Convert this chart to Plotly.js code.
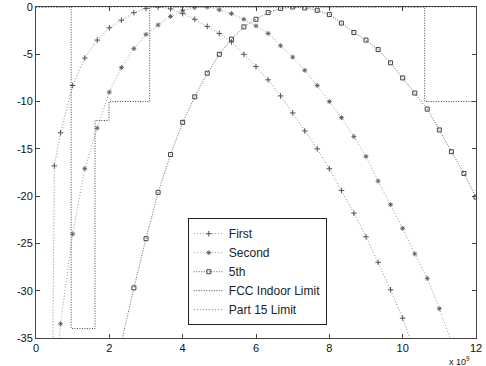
<!DOCTYPE html>
<html>
<head>
<meta charset="utf-8">
<script src="https://cdn.plot.ly/plotly-3.0.1.min.js"></script>
<style>
  html, body { margin: 0; padding: 0; background: #fff; }
  #chart { width: 486px; height: 366px; }
</style>
</head>
<body>
<div id="chart"></div>
<script>
// Frequencies in units of 1e9 Hz, values in dB
const freqFirst = [0.45, 0.5, 0.67, 1.0, 1.33, 1.67, 2.0, 2.33, 2.67, 3.0, 3.33, 3.67, 4.0, 4.33, 4.67, 5.0, 5.33, 5.67, 6.0, 6.33, 6.67, 7.0, 7.33, 7.67, 8.0, 8.33, 8.67, 9.0, 9.33, 9.67, 10.0, 10.33];
const first = [-40, -16.8, -13.3, -8.3, -5.4, -3.5, -2.2, -1.4, -0.6, -0.15, 0, -0.2, -0.7, -1.3, -2.05, -2.8, -3.7, -5.0, -6.3, -7.7, -9.4, -11.2, -13.1, -15.0, -17.1, -19.4, -21.8, -24.3, -27.0, -29.9, -32.9, -36.5];

const freqSecond = [0.33, 0.67, 1.0, 1.33, 1.67, 2.0, 2.33, 2.67, 3.0, 3.33, 3.67, 4.0, 4.33, 4.67, 5.0, 5.33, 5.67, 6.0, 6.33, 6.67, 7.0, 7.33, 7.67, 8.0, 8.33, 8.67, 9.0, 9.33, 9.67, 10.0, 10.33, 10.67, 11.0, 11.33];
const second = [-48, -33.5, -24.0, -17.1, -12.8, -9.0, -6.4, -4.4, -2.9, -1.9, -1.0, -0.4, -0.05, 0, -0.3, -0.7, -1.3, -2.0, -2.8, -4.1, -5.3, -6.7, -8.3, -10.0, -11.7, -13.7, -15.8, -18.4, -20.9, -23.4, -26.1, -28.7, -31.9, -35.4];

const freqFifth = [2.0, 2.33, 2.67, 3.0, 3.33, 3.67, 4.0, 4.33, 4.67, 5.0, 5.33, 5.67, 6.0, 6.33, 6.67, 7.0, 7.33, 7.67, 8.0, 8.33, 8.67, 9.0, 9.33, 9.67, 10.0, 10.33, 10.67, 11.0, 11.33, 11.67, 12.0];
const fifth = [-41, -35.3, -29.7, -24.5, -19.6, -15.6, -12.2, -9.5, -7.0, -5.0, -3.4, -2.1, -1.3, -0.6, -0.15, 0, -0.1, -0.35, -0.8, -1.7, -2.7, -3.5, -4.5, -5.9, -7.5, -9.1, -10.8, -13.0, -15.3, -17.6, -20.1];

const fccFreq = [0, 0.96, 0.96, 1.61, 1.61, 1.99, 1.99, 3.1, 3.1, 10.6, 10.6, 12];
const fccIndoor = [0, 0, -34, -34, -12, -12, -10, -10, 0, 0, -10, -10];

const part15Freq = [0, 12];
const part15 = [0, 0];

const seriesNames = ["First", "Second", "5th", "FCC Indoor Limit", "Part 15 Limit"];
const xTicks = [0, 2, 4, 6, 8, 10, 12];
const yTicks = [0, -5, -10, -15, -20, -25, -30, -35];

const traces = [
  { x: freqFirst, y: first, name: seriesNames[0], mode: 'lines+markers',
    line: { color: '#8a8a8a', width: 1, dash: '1px,2px' },
    marker: { symbol: 'cross-thin-open', size: 4, color: '#555', line: { color: '#555', width: 1 } } },
  { x: freqSecond, y: second, name: seriesNames[1], mode: 'lines+markers',
    line: { color: '#999', width: 1, dash: '1px,2px' },
    marker: { symbol: 'asterisk-open', size: 4, color: '#666', line: { color: '#666', width: 1 } } },
  { x: freqFifth, y: fifth, name: seriesNames[2], mode: 'lines+markers',
    line: { color: '#666', width: 1, dash: '1px,1.5px' },
    marker: { symbol: 'square-open', size: 4, color: '#444', line: { color: '#444', width: 1 } } },
  { x: fccFreq, y: fccIndoor, name: seriesNames[3], mode: 'lines',
    line: { color: '#444', width: 1, dash: '1px,1.5px' } },
  { x: part15Freq, y: part15, name: seriesNames[4], mode: 'lines',
    line: { color: '#777', width: 1, dash: '1px,2px' } }
];

const axisFont = { family: 'Liberation Sans, Arial, sans-serif', size: 11, color: '#111' };

const layout = {
  width: 486, height: 366,
  margin: { l: 36, r: 10, t: 7, b: 28 },
  paper_bgcolor: '#fff', plot_bgcolor: '#fff',
  showlegend: true,
  xaxis: {
    range: [0, 12], tickvals: xTicks, ticktext: xTicks.map(String),
    ticks: 'inside', ticklen: 4, tickcolor: '#444',
    showline: true, linecolor: '#444', linewidth: 1, mirror: 'allticks',
    showgrid: false, zeroline: false, tickfont: axisFont
  },
  yaxis: {
    range: [-35, 0], tickvals: yTicks, ticktext: yTicks.map(String),
    ticks: 'inside', ticklen: 4, tickcolor: '#444',
    showline: true, linecolor: '#444', linewidth: 1, mirror: 'allticks',
    showgrid: false, zeroline: false, tickfont: axisFont
  },
  legend: {
    x: 0.345, y: 0.362, xanchor: 'left', yanchor: 'top',
    bgcolor: '#fff', bordercolor: '#222', borderwidth: 1,
    font: { family: 'Liberation Sans, Arial, sans-serif', size: 12, color: '#222' },
    tracegroupgap: 0
  },
  annotations: [{
    xref: 'paper', yref: 'paper', x: 0.962, y: -0.068,
    xanchor: 'center', yanchor: 'middle', showarrow: false,
    text: 'x 10<sup>9</sup>',
    font: { family: 'Liberation Sans, Arial, sans-serif', size: 9, color: '#111' }
  }]
};

Plotly.newPlot('chart', traces, layout, { displayModeBar: false, staticPlot: true });
</script>
</body>
</html>
